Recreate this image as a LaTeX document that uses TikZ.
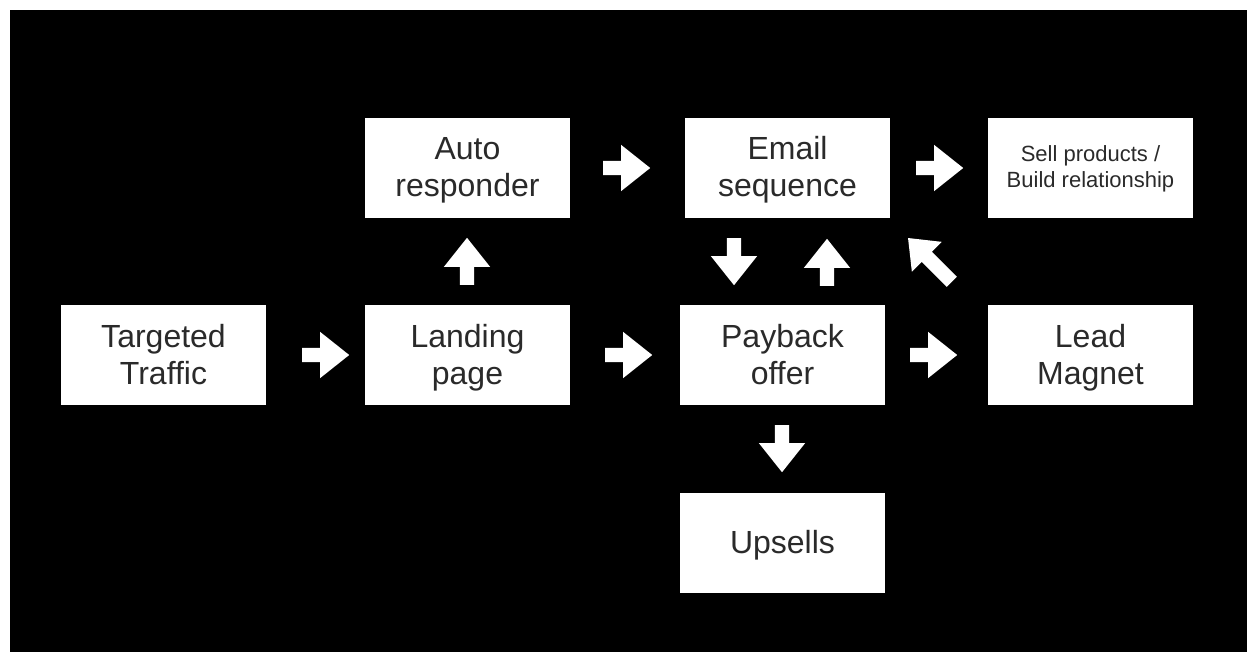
\documentclass[tikz,border=0pt]{standalone}
\usepackage{fontspec}
\setmainfont{Liberation Sans}
\usetikzlibrary{shapes.arrows}
\definecolor{txt}{HTML}{2A2A2A}
\newcommand{\bigstrut}{\rule[-8pt]{0pt}{37pt}}
\newcommand{\smallstrut}{\rule[-6pt]{0pt}{26pt}}
\newcommand{\tl}[2]{\bigstrut #1\\\bigstrut #2}
\newcommand{\tls}[2]{\smallstrut #1\\\smallstrut #2}
\begin{document}
\begin{tikzpicture}[x=1pt,y=-1pt,
  box/.style={fill=white, draw=none, minimum width=205pt, minimum height=100pt, inner sep=0pt,
    text=txt, align=center, font=\fontsize{32}{37}\selectfont},
  smallbox/.style={box, font=\fontsize{22}{26}\selectfont},
  blockarrow/.style={single arrow, fill=white, draw=none, inner sep=7pt, anchor=tail,
    minimum height=47pt, single arrow head extend=16pt, single arrow tip angle=77}
]
\useasboundingbox (0,0) rectangle (1247,652);
\fill[white] (0,0) rectangle (1247,652);
\fill[black] (10,10) rectangle (1247,652);

\node[box] (traffic) at (163.5,355) {\tl{Targeted}{Traffic}};
\node[box] (landing) at (467.5,355) {\tl{Landing}{page}};
\node[box] (auto) at (467.5,168) {\tl{Auto}{responder}};
\node[box] (email) at (787.5,168) {\tl{Email}{sequence}};
\node[smallbox] (sell) at (1090.5,168) {\tls{Sell products /}{Build relationship}};
\node[box] (payback) at (782.5,355) {\tl{Payback}{offer}};
\node[box] (lead) at (1090.5,355) {\tl{Lead}{Magnet}};
\node[box] (upsells) at (782.5,543) {\bigstrut Upsells};

\node[blockarrow] (a1) at (302,355) {};
\node[blockarrow] (a2) at (605,355) {};
\node[blockarrow] (a3) at (910,355) {};
\node[blockarrow] (a4) at (603,168) {};
\node[blockarrow] (a5) at (916,168) {};
\node[blockarrow, rotate=90] (a6) at (467,285) {};
\node[blockarrow, rotate=-90] (a7) at (734,238) {};
\node[blockarrow, rotate=90] (a8) at (827,286) {};
\node[blockarrow, rotate=-90] (a9) at (782,425) {};
\node[blockarrow, rotate=135, minimum height=62pt, single arrow head extend=14pt] (a10) at (952,282) {};
\end{tikzpicture}
\end{document}
